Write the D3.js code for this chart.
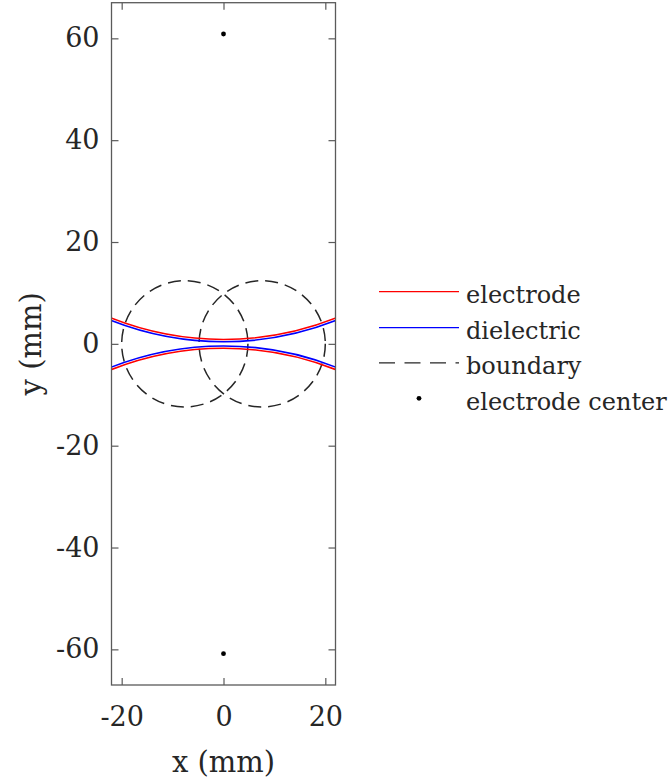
<!DOCTYPE html>
<html>
<head>
<meta charset="utf-8">
<script src="https://cdn.jsdelivr.net/npm/d3@7"></script>
<style>
  html, body { margin: 0; padding: 0; background: #fff; }
  svg text { font-family: "DejaVu Serif", "Liberation Serif", serif; fill: #262626; }
</style>
</head>
<body>
<svg id="chart" width="668" height="782"></svg>
<script>
// Axis limits and ticks (mm)
const xDomain = [-22, 22];
const yDomain = [-67, 67];
const xTicks = [-20, 0, 20];
const yTicks = [-60, -40, -20, 0, 20, 40, 60];

// Electrode centres (x, y) in mm
const centerX = [0, 0];
const centerY = [60.85, -60.85];
// Electrode surface radius and dielectric surface radius (mm)
const electrodeRadius = 60.0;
const dielectricRadius = 60.45;

// Boundary circles: centres and radius (mm)
const boundaryX = [-7.6, 7.6];
const boundaryY = [0, 0];
const boundaryRadius = 12.4;

// Legend entries
const legendLabels = ["electrode", "dielectric", "boundary", "electrode center"];

const svg = d3.select("#chart");
const plotLeft = 111.5, plotRight = 335.5, plotTop = 2.7, plotBottom = 685;

const x = d3.scaleLinear().domain(xDomain).range([plotLeft, plotRight]);
const y = d3.scaleLinear().domain(yDomain).range([plotBottom, plotTop]);
const rx = r => x(r) - x(0);   // mm length -> px (equal aspect)

svg.append("clipPath").attr("id", "plotArea")
  .append("rect").attr("x", plotLeft).attr("y", plotTop)
  .attr("width", plotRight - plotLeft).attr("height", plotBottom - plotTop);

const plot = svg.append("g").attr("clip-path", "url(#plotArea)");

// Boundary circles (dashed)
plot.selectAll("circle.boundary")
  .data(boundaryX.map((bx, i) => ({ x: bx, y: boundaryY[i] })))
  .join("circle")
  .attr("class", "boundary")
  .attr("cx", d => x(d.x)).attr("cy", d => y(d.y))
  .attr("r", rx(boundaryRadius))
  .attr("fill", "none").attr("stroke", "#262626")
  .attr("stroke-width", 1.5).attr("stroke-dasharray", "13,7");

const centres = centerX.map((cx, i) => ({ x: cx, y: centerY[i] }));

// Electrode surfaces (red)
plot.selectAll("circle.electrode")
  .data(centres).join("circle")
  .attr("class", "electrode")
  .attr("cx", d => x(d.x)).attr("cy", d => y(d.y))
  .attr("r", rx(electrodeRadius))
  .attr("fill", "none").attr("stroke", "#ff0000").attr("stroke-width", 1.6);

// Dielectric surfaces (blue)
plot.selectAll("circle.dielectric")
  .data(centres).join("circle")
  .attr("class", "dielectric")
  .attr("cx", d => x(d.x)).attr("cy", d => y(d.y))
  .attr("r", rx(dielectricRadius))
  .attr("fill", "none").attr("stroke", "#0000ff").attr("stroke-width", 1.6);

// Electrode centre markers
plot.selectAll("circle.centre")
  .data(centres).join("circle")
  .attr("class", "centre")
  .attr("cx", d => x(d.x)).attr("cy", d => y(d.y))
  .attr("r", 2.4).attr("fill", "#000");

// Axes with inward ticks on all four sides
const tickLen = 7;
const axisColor = "#5a5a5a";
function styleAxis(g, hideText) {
  g.select(".domain").remove();
  g.selectAll(".tick line").attr("stroke", axisColor).attr("stroke-width", 1.2);
  g.selectAll(".tick text").style("font-size", "27px").attr("fill", "#262626");
  if (hideText) g.selectAll(".tick text").remove();
}

svg.append("g").attr("transform", `translate(0,${plotBottom})`)
  .call(d3.axisBottom(x).tickValues(xTicks).tickSize(-tickLen).tickPadding(22).tickFormat(d3.format("d")))
  .call(g => styleAxis(g, false));
svg.append("g").attr("transform", `translate(0,${plotTop})`)
  .call(d3.axisTop(x).tickValues(xTicks).tickSize(-tickLen))
  .call(g => styleAxis(g, true));
svg.append("g").attr("transform", `translate(${plotLeft},0)`)
  .call(d3.axisLeft(y).tickValues(yTicks).tickSize(-tickLen).tickPadding(12).tickFormat(d3.format("d")))
  .call(g => styleAxis(g, false));
svg.append("g").attr("transform", `translate(${plotRight},0)`)
  .call(d3.axisRight(y).tickValues(yTicks).tickSize(-tickLen))
  .call(g => styleAxis(g, true));

// Axes box
svg.append("rect").attr("x", plotLeft).attr("y", plotTop)
  .attr("width", plotRight - plotLeft).attr("height", plotBottom - plotTop)
  .attr("fill", "none").attr("stroke", axisColor).attr("stroke-width", 1.3);

// Use ASCII hyphen for negative ticks
svg.selectAll(".tick text").text(function () { return this.textContent.replace("\u2212", "-"); });

// Axis labels
svg.append("text").attr("x", x(0)).attr("y", 772)
  .attr("text-anchor", "middle").style("font-size", "29px").text("x (mm)");
svg.append("text")
  .attr("transform", `translate(41,${(plotTop + plotBottom) / 2}) rotate(-90)`)
  .attr("text-anchor", "middle").style("font-size", "29px").text("y (mm)");

// Legend
const legend = svg.append("g");
const rowY = [291.7, 327.7, 362.8, 398.3];
const lx0 = 379, lx1 = 459, tx = 466;
legend.append("line").attr("x1", lx0).attr("x2", lx1).attr("y1", rowY[0]).attr("y2", rowY[0])
  .attr("stroke", "#ff0000").attr("stroke-width", 1.2);
legend.append("line").attr("x1", lx0).attr("x2", lx1).attr("y1", rowY[1]).attr("y2", rowY[1])
  .attr("stroke", "#0000ff").attr("stroke-width", 1.2);
legend.append("line").attr("x1", lx0).attr("x2", lx1).attr("y1", rowY[2]).attr("y2", rowY[2])
  .attr("stroke", "#262626").attr("stroke-width", 1.2).attr("stroke-dasharray", "16,9.5");
legend.append("circle").attr("cx", (lx0 + lx1) / 2).attr("cy", rowY[3]).attr("r", 2.4).attr("fill", "#000");
legend.selectAll("text.lbl").data(legendLabels).join("text")
  .attr("class", "lbl")
  .attr("x", tx).attr("y", (d, i) => rowY[i] + 11.5)
  .style("font-size", "24px").text(d => d);
</script>
</body>
</html>
